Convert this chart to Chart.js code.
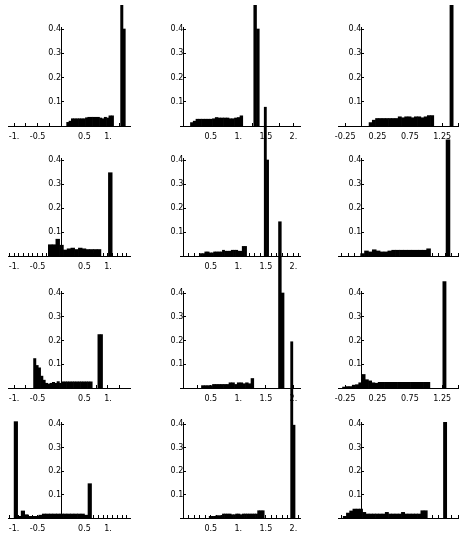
<!DOCTYPE html>
<html>
<head>
<meta charset="utf-8">
<script src="https://cdn.jsdelivr.net/npm/chart.js@4.4.1/dist/chart.umd.min.js"></script>
<style>
  html, body { margin: 0; padding: 0; background: #fff; }
  #grid { position: relative; width: 459px; height: 542px; overflow: hidden; }
  #grid canvas { position: absolute; }
</style>
</head>
<body>
<div id="grid"></div>
<script>
// Histogram bins (bin centres / heights), one pair per panel, row by row
const p1x = [0.145, 0.195, 0.245, 0.295, 0.345, 0.395, 0.445, 0.495, 0.545, 0.595, 0.645, 0.695, 0.745, 0.795, 0.845, 0.895, 0.945, 0.995, 1.045, 1.095, 1.295, 1.345];
const p1y = [0.015, 0.02, 0.03, 0.03, 0.03, 0.03, 0.03, 0.03, 0.034, 0.036, 0.036, 0.036, 0.036, 0.036, 0.033, 0.03, 0.036, 0.033, 0.042, 0.042, 0.6, 0.4];

const p2x = [0.155, 0.205, 0.255, 0.305, 0.355, 0.405, 0.455, 0.505, 0.555, 0.605, 0.655, 0.705, 0.755, 0.805, 0.855, 0.905, 0.955, 1.005, 1.055, 1.305, 1.355];
const p2y = [0.014, 0.02, 0.028, 0.028, 0.028, 0.028, 0.028, 0.028, 0.03, 0.035, 0.033, 0.033, 0.033, 0.033, 0.03, 0.03, 0.033, 0.035, 0.042, 0.6, 0.4];

const p3x = [0.145, 0.195, 0.245, 0.295, 0.345, 0.395, 0.445, 0.495, 0.545, 0.595, 0.645, 0.695, 0.745, 0.795, 0.845, 0.895, 0.945, 0.995, 1.045, 1.095, 1.395];
const p3y = [0.014, 0.024, 0.031, 0.031, 0.031, 0.031, 0.031, 0.031, 0.031, 0.038, 0.034, 0.038, 0.038, 0.034, 0.038, 0.038, 0.034, 0.038, 0.043, 0.043, 0.6];

const p4x = [-0.23, -0.15, -0.07, 0.01, 0.09, 0.17, 0.25, 0.33, 0.41, 0.49, 0.57, 0.65, 0.73, 0.81, 1.05];
const p4y = [0.047, 0.047, 0.07, 0.045, 0.025, 0.03, 0.033, 0.027, 0.033, 0.03, 0.027, 0.027, 0.027, 0.027, 0.347];

const p5x = [0.33, 0.37, 0.41, 0.45, 0.49, 0.53, 0.57, 0.61, 0.65, 0.69, 0.73, 0.77, 0.81, 0.85, 0.89, 0.93, 0.97, 1.01, 1.05, 1.09, 1.13, 1.49, 1.53];
const p5y = [0.01, 0.01, 0.017, 0.017, 0.013, 0.013, 0.017, 0.017, 0.017, 0.017, 0.024, 0.02, 0.02, 0.02, 0.024, 0.024, 0.024, 0.02, 0.02, 0.04, 0.04, 0.62, 0.4];

const p6x = [0.02, 0.08, 0.14, 0.2, 0.26, 0.32, 0.38, 0.44, 0.5, 0.56, 0.62, 0.68, 0.74, 0.8, 0.86, 0.92, 0.98, 1.04, 1.34];
const p6y = [0.01, 0.021, 0.017, 0.026, 0.021, 0.017, 0.017, 0.021, 0.024, 0.024, 0.024, 0.024, 0.024, 0.024, 0.024, 0.024, 0.024, 0.03, 0.484];

const p7x = [-0.56, -0.51, -0.46, -0.41, -0.36, -0.31, -0.26, -0.21, -0.16, -0.11, -0.06, -0.01, 0.04, 0.09, 0.14, 0.19, 0.24, 0.29, 0.34, 0.39, 0.44, 0.49, 0.54, 0.59, 0.64, 0.81, 0.86];
const p7y = [0.124, 0.095, 0.085, 0.05, 0.033, 0.02, 0.017, 0.02, 0.024, 0.02, 0.027, 0.02, 0.026, 0.026, 0.026, 0.026, 0.026, 0.026, 0.026, 0.026, 0.026, 0.026, 0.026, 0.026, 0.026, 0.225, 0.225];

const p8x = [0.355, 0.405, 0.455, 0.505, 0.555, 0.605, 0.655, 0.705, 0.755, 0.805, 0.855, 0.905, 0.955, 1.005, 1.055, 1.105, 1.155, 1.205, 1.255, 1.755, 1.805];
const p8y = [0.01, 0.01, 0.01, 0.01, 0.015, 0.015, 0.015, 0.015, 0.015, 0.015, 0.022, 0.022, 0.015, 0.022, 0.022, 0.018, 0.022, 0.018, 0.04, 0.7, 0.4];

const p9x = [-0.265, -0.215, -0.165, -0.115, -0.065, -0.015, 0.035, 0.085, 0.135, 0.185, 0.235, 0.285, 0.335, 0.385, 0.435, 0.485, 0.535, 0.585, 0.635, 0.685, 0.735, 0.785, 0.835, 0.885, 0.935, 0.985, 1.035, 1.285];
const p9y = [0.004, 0.006, 0.006, 0.012, 0.014, 0.022, 0.057, 0.035, 0.03, 0.022, 0.02, 0.024, 0.024, 0.024, 0.024, 0.024, 0.024, 0.024, 0.024, 0.024, 0.024, 0.024, 0.024, 0.024, 0.024, 0.024, 0.024, 0.448];

const p10x = [-0.9625, -0.8875, -0.8125, -0.7375, -0.6625, -0.5875, -0.5125, -0.4375, -0.3625, -0.2875, -0.2125, -0.1375, -0.0625, 0.0125, 0.0875, 0.1625, 0.2375, 0.3125, 0.3875, 0.4625, 0.5375, 0.6125];
const p10y = [0.41, 0.007, 0.03, 0.014, 0.007, 0.007, 0.007, 0.012, 0.017, 0.017, 0.017, 0.017, 0.017, 0.017, 0.017, 0.017, 0.017, 0.017, 0.017, 0.017, 0.012, 0.146];

const p11x = [0.49, 0.53, 0.57, 0.61, 0.65, 0.69, 0.73, 0.77, 0.81, 0.85, 0.89, 0.93, 0.97, 1.01, 1.05, 1.09, 1.13, 1.17, 1.21, 1.25, 1.29, 1.33, 1.37, 1.41, 1.45, 1.97, 2.01];
const p11y = [0.007, 0.007, 0.007, 0.01, 0.01, 0.01, 0.017, 0.017, 0.017, 0.017, 0.014, 0.014, 0.017, 0.017, 0.014, 0.017, 0.017, 0.017, 0.017, 0.017, 0.017, 0.017, 0.031, 0.031, 0.031, 0.75, 0.395];

const p12x = [-0.255, -0.205, -0.155, -0.105, -0.055, -0.005, 0.045, 0.095, 0.145, 0.195, 0.245, 0.295, 0.345, 0.395, 0.445, 0.495, 0.545, 0.595, 0.645, 0.695, 0.745, 0.795, 0.845, 0.895, 0.945, 0.995, 1.295];
const p12y = [0.007, 0.021, 0.03, 0.038, 0.038, 0.038, 0.024, 0.017, 0.017, 0.017, 0.017, 0.017, 0.017, 0.024, 0.017, 0.017, 0.017, 0.017, 0.024, 0.017, 0.017, 0.017, 0.017, 0.017, 0.031, 0.031, 0.407];

// Axis ticks and ranges, one entry per column
const yTicks = [0.1, 0.2, 0.3, 0.4];
const yTickLabels = ['0.1', '0.2', '0.3', '0.4'];
const colTicks = [[-1, -0.5, 0.5, 1], [0.5, 1, 1.5, 2], [-0.25, 0.25, 0.75, 1.25]];
const colTickLabels = [['-1.', '-0.5', '0.5', '1.'], ['0.5', '1.', '1.5', '2.'], ['-0.25', '0.25', '0.75', '1.25']];
const colRange = [[-1.13, 1.47], [-0.06, 2.12], [-0.36, 1.51]];
const yMax = 0.405;

const panels = [
    [p1x, p1y], [p2x, p2y], [p3x, p3y],
    [p4x, p4y], [p5x, p5y], [p6x, p6y],
    [p7x, p7y], [p8x, p8y], [p9x, p9y],
    [p10x, p10y], [p11x, p11y], [p12x, p12y]
];

// Page layout (pixels)
const cellW = 153;
const colLeft = [0, 153, 306];
const plotLeft = [8, 27, 32];      // chart area edges inside each cell
const plotRight = [130, 147, 153];
const rowAxis = [126, 256, 388, 518];  // pixel row of y = 0
const rowTick4 = [29, 160, 293, 424];  // pixel row of y = 0.4
const pageTop = 5;
const labelBand = 20;
const minorStep = [0.25, 0.1, 0.25, 0.1];

Chart.defaults.font.family = "'DejaVu Sans', sans-serif";
Chart.defaults.font.size = 8;
Chart.defaults.color = '#000';

function minorTicks(range, step) {
    const out = [];
    for (let k = Math.ceil(range[0] / step); k <= Math.floor(range[1] / step); k++) {
        if (k !== 0) out.push(+(k * step).toFixed(4));
    }
    return out;
}

function labelFor(v, values, labels) {
    const i = values.findIndex(t => Math.abs(t - v) < 1e-6);
    return i < 0 ? '' : labels[i];
}

const grid = document.getElementById('grid');

panels.forEach(([xs, ys], i) => {
    const row = Math.floor(i / 3);
    const col = i % 3;
    const height = rowAxis[row] - pageTop + labelBand;
    const chartTop = rowAxis[row] - yMax * (rowAxis[row] - rowTick4[row]) / 0.4;

    const cv = document.createElement('canvas');
    cv.width = cellW;
    cv.height = height;
    cv.style.left = colLeft[col] + 'px';
    cv.style.top = pageTop + 'px';
    grid.appendChild(cv);

    const xTickValues = minorTicks(colRange[col], minorStep[row]);

    new Chart(cv, {
        type: 'bar',
        data: {
            datasets: [{
                data: xs.map((x, j) => ({ x: x, y: ys[j] })),
                backgroundColor: '#000',
                borderWidth: 0,
                barPercentage: 1,
                categoryPercentage: 1,
                clip: false
            }]
        },
        options: {
            responsive: false,
            animation: false,
            devicePixelRatio: 1,
            layout: {
                padding: {
                    top: chartTop - pageTop,
                    left: plotLeft[col],
                    right: cellW - plotRight[col],
                    bottom: 0
                }
            },
            plugins: { legend: { display: false }, tooltip: { enabled: false } },
            scales: {
                x: {
                    type: 'linear',
                    min: colRange[col][0],
                    max: colRange[col][1],
                    offset: false,
                    // negative tick length: marks point into the plot, Mathematica style
                    grid: { offset: false, drawOnChartArea: false, tickLength: -3, color: '#000' },
                    border: { color: '#000', width: 1 },
                    ticks: {
                        autoSkip: false, maxRotation: 0, minRotation: 0, padding: 9,
                        callback: v => labelFor(v, colTicks[col], colTickLabels[col])
                    },
                    afterBuildTicks: s => { s.ticks = xTickValues.map(v => ({ value: v })); },
                    afterFit: s => { s.height = labelBand; s.paddingLeft = 0; s.paddingRight = 0; }
                },
                y: {
                    type: 'linear',
                    min: 0,
                    max: yMax,
                    position: { x: 0 },
                    grid: { drawOnChartArea: false, tickLength: -3, color: '#000' },
                    border: { color: '#000', width: 1 },
                    ticks: {
                        autoSkip: false, padding: 5,
                        callback: v => labelFor(v, yTicks, yTickLabels)
                    },
                    afterBuildTicks: s => { s.ticks = yTicks.map(v => ({ value: v })); },
                    afterFit: s => { s.paddingTop = 0; s.paddingBottom = 0; }
                }
            }
        }
    });
});
</script>
</body>
</html>
